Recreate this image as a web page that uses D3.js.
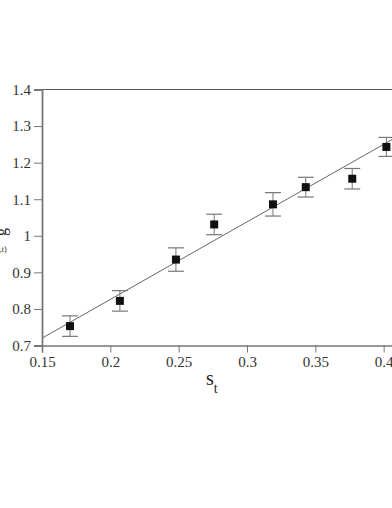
<!DOCTYPE html>
<html>
<head>
<meta charset="utf-8">
<script src="https://cdn.jsdelivr.net/npm/d3@7"></script>
<style>
  body { margin: 0; background: #fff; overflow: hidden; }
  svg { display: block; }
  svg text { font-family: "Liberation Serif", serif; }
  .axis path, .axis line { stroke: #777; }
  .axis text { fill: #333; font-size: 15px; }
</style>
</head>
<body>
<div id="chart"></div>
<script>
// measured points with symmetric error bars
const sValues = [0.1705, 0.207, 0.248, 0.276, 0.319, 0.343, 0.377, 0.402];
const gValues = [0.753, 0.822, 0.935, 1.031, 1.086, 1.133, 1.156, 1.243];
const gErrors = [0.028, 0.028, 0.032, 0.028, 0.032, 0.027, 0.028, 0.026];

// linear fit
const fitS = [0.15, 0.45];
const fitG = [0.72, 1.356];

const xTicks = [0.15, 0.2, 0.25, 0.3, 0.35, 0.4];
const yTicks = [0.7, 0.8, 0.9, 1, 1.1, 1.2, 1.3, 1.4];

const serif = 'Liberation Serif';
const width = 392, height = 508;
const svg = d3.select('#chart').append('svg')
  .attr('width', width)
  .attr('height', height);

const x = d3.scaleLinear().domain([0.15, 0.45]).range([42, 452]);
const y = d3.scaleLinear().domain([0.7, 1.4]).range([345.5, 89.5]);

svg.append('defs').append('clipPath').attr('id', 'plotClip')
  .append('rect')
  .attr('x', x(0.15)).attr('y', y(1.4))
  .attr('width', x(0.45) - x(0.15)).attr('height', y(0.7) - y(1.4));

// top frame line
svg.append('line')
  .attr('x1', x(0.15)).attr('x2', x(0.45))
  .attr('y1', y(1.4)).attr('y2', y(1.4))
  .attr('stroke', '#555').attr('stroke-width', 1.2);

// fit line
const line = d3.line()
  .x(d => x(d[0]))
  .y(d => y(d[1]));

svg.append('path')
  .datum(fitS.map((s, i) => [s, fitG[i]]))
  .attr('d', line)
  .attr('clip-path', 'url(#plotClip)')
  .attr('fill', 'none')
  .attr('stroke', '#666')
  .attr('stroke-width', 1);

const points = sValues.map((s, i) => ({ s: s, g: gValues[i], e: gErrors[i] }));

// error bars
const bars = svg.append('g').attr('class', 'errbars');
bars.selectAll('.err-v')
  .data(points)
  .enter().append('line')
  .attr('x1', d => x(d.s)).attr('x2', d => x(d.s))
  .attr('y1', d => y(d.g + d.e)).attr('y2', d => y(d.g - d.e))
  .attr('stroke', '#777').attr('stroke-width', 1);

[1, -1].forEach(sign => {
  bars.selectAll('.cap' + sign)
    .data(points)
    .enter().append('line')
    .attr('x1', d => x(d.s) - 8).attr('x2', d => x(d.s) + 8)
    .attr('y1', d => y(d.g + sign * d.e)).attr('y2', d => y(d.g + sign * d.e))
    .attr('stroke', '#777').attr('stroke-width', 1.2);
});

// markers
svg.selectAll('.marker')
  .data(points)
  .enter().append('rect')
  .attr('class', 'marker')
  .attr('x', d => x(d.s) - 4)
  .attr('y', d => y(d.g) - 4)
  .attr('width', 8)
  .attr('height', 8)
  .attr('fill', '#111');

// axes
const xAxis = svg.append('g')
  .attr('class', 'axis')
  .attr('transform', `translate(0,${y(0.7)})`)
  .call(d3.axisBottom(x).tickValues(xTicks).tickSize(7).tickPadding(4)
    .tickFormat(d3.format('')));
xAxis.attr('font-family', serif).attr('font-size', 15);
xAxis.select('.domain').attr('stroke-width', 1.6);

const yAxis = svg.append('g')
  .attr('class', 'axis')
  .attr('transform', `translate(${x(0.15)},0)`)
  .call(d3.axisLeft(y).tickValues(yTicks).tickSize(8).tickPadding(3)
    .tickFormat(d3.format('')));
yAxis.attr('font-family', serif).attr('font-size', 15);
yAxis.select('.domain').attr('stroke-width', 1.8);

// x axis title
const xt = svg.append('text')
  .attr('x', 206)
  .attr('y', 385)
  .attr('fill', '#222')
  .attr('font-family', serif)
  .attr('font-size', 20)
  .text('s');
xt.append('tspan')
  .attr('font-size', 14)
  .attr('dy', 8)
  .text('t');

// y axis title, mostly clipped at the left edge
svg.append('text')
  .attr('transform', 'translate(6,236) rotate(-90)')
  .attr('fill', '#222')
  .attr('font-family', serif)
  .attr('font-size', 16)
  .text('g');
svg.append('text')
  .attr('x', -6)
  .attr('y', 252)
  .attr('fill', '#222')
  .attr('font-family', serif)
  .attr('font-size', 8)
  .text('(s,t)');
</script>
</body>
</html>
